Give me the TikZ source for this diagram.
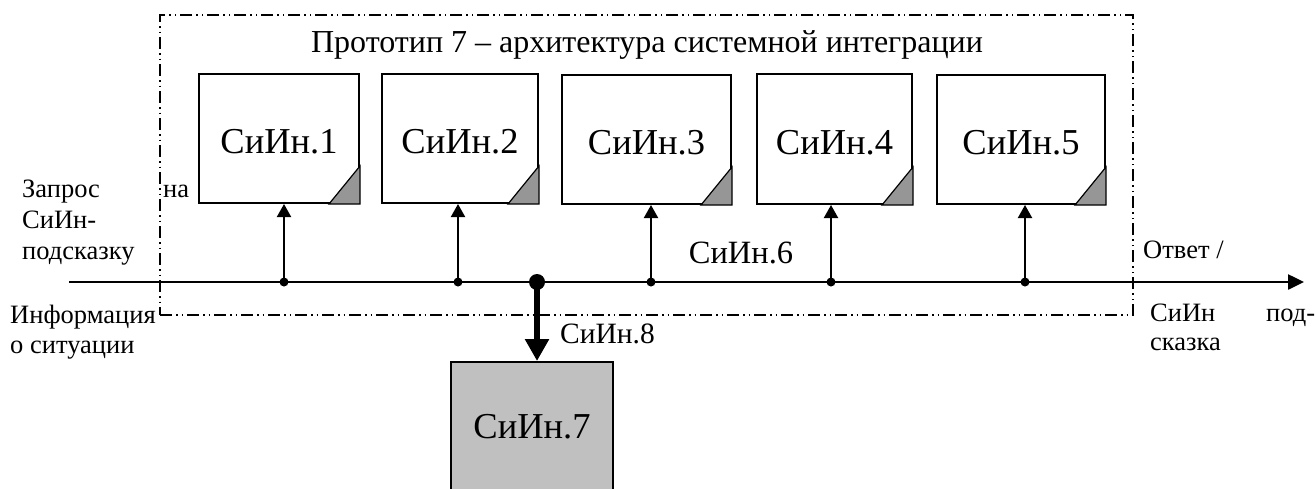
\documentclass[tikz,border=0pt]{standalone}
\usepackage{fontspec}
\setmainfont{Liberation Serif}
\usetikzlibrary{arrows.meta}
\tikzset{
  frm/.style={draw, line width=1.5pt, dash pattern=on 12pt off 4pt on 1.5pt off 4pt on 1.5pt off 4pt, inner sep=0pt},
  sibox/.style={draw, line width=2pt, fill=white, inner sep=0pt, text height=30pt, text depth=0pt, font=\fontsize{36.5}{40}\selectfont},
  graybox/.style={draw, line width=2pt, fill=gray75, inner sep=0pt, font=\fontsize{36.5}{40}\selectfont},
  lbl/.style={inner sep=0pt, anchor=base west, font=\fontsize{26.5}{30}\selectfont},
  tap/.style={line width=2pt, -{Triangle[length=13pt,width=14pt]}},
  bus/.style={line width=2.5pt, -{Triangle[length=16pt,width=15pt]}},
  corner/.style={fill=gray60, draw, line width=1.2pt},
}
\definecolor{gray75}{HTML}{C0C0C0}
\definecolor{gray60}{HTML}{969696}
\begin{document}
\begin{tikzpicture}[x=1pt,y=-1pt]
\useasboundingbox (0,0) rectangle (1316,488);
% frame
\node[frm, minimum width=973pt, minimum height=300pt] (frame) at (646.5,165) {};
\node[inner sep=0pt, font=\fontsize{32}{36}\selectfont] (title) at (647,45) {Прототип 7 – архитектура системной интеграции};
% boxes
\node[sibox, minimum width=160pt, minimum height=129pt] (b1) at (279,138.5) {СиИн.1};
\node[sibox, minimum width=156pt, minimum height=129pt] (b2) at (460,138.5) {СиИн.2};
\node[sibox, minimum width=169pt, minimum height=129pt] (b3) at (646.5,139.5) {СиИн.3};
\node[sibox, minimum width=155pt, minimum height=130pt] (b4) at (834.5,139) {СиИн.4};
\node[sibox, minimum width=168pt, minimum height=129pt] (b5) at (1021,139.5) {СиИн.5};
% corners
\foreach \b in {b1,b2,b3,b4,b5}{
  \draw[corner] (\b.south east) -- ([yshift=38pt]\b.south east) -- ([xshift=-31pt]\b.south east) -- cycle;
}
% bus
\coordinate (busL) at (69,282);
\coordinate (busR) at (1304,282);
\draw[bus] (busL) -- (busR);
\foreach \x/\b [count=\i] in {284/b1,458/b2,651/b3,831/b4,1025/b5}{
  \coordinate (t\i) at (\x,282);
  \fill (t\i) circle (4.5pt);
  \draw[tap] (t\i) -- (t\i |- \b.south);
}
% SiIn.7
\node[graybox, minimum width=162pt, minimum height=130pt] (b7) at (532,427) {СиИн.7};
\coordinate (t8) at (537,282);
\fill (t8) circle (8pt);
\draw[line width=6pt, -{Triangle[length=22pt,width=23pt]}] (t8) -- (t8 |- b7.north);
% labels
\node[lbl] (q1) at (22,197) {Запрос};
\node[lbl] (q2) at (163,197) {на};
\node[lbl] (q3) at (22,228) {СиИн-};
\node[lbl] (q4) at (22,259) {подсказку};
\node[lbl] (i1) at (10,323) {Информация};
\node[lbl] (i2) at (10,353) {о ситуации};
\node[lbl] (o1) at (1143,258) {Ответ /};
\node[lbl] (o2) at (1150,321) {СиИн};
\node[lbl] (o3) at (1266,321) {под-};
\node[lbl] (o4) at (1150,350) {сказка};
\node[inner sep=0pt, anchor=base, font=\fontsize{32.5}{36}\selectfont] (s6) at (741,263) {СиИн.6};
\node[inner sep=0pt, anchor=base west, font=\fontsize{29.5}{32}\selectfont] (s8) at (560,343) {СиИн.8};
\end{tikzpicture}
\end{document}
